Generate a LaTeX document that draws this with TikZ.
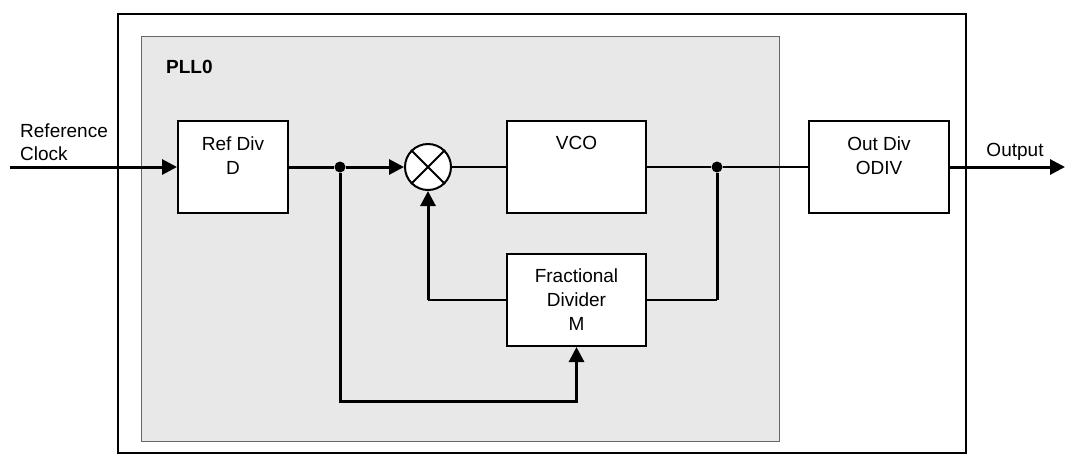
\documentclass[tikz,border=0pt]{standalone}
\usepackage{fontspec}
\setmainfont{Liberation Sans}
\usetikzlibrary{positioning,arrows.meta,calc}

\begin{document}
\begin{tikzpicture}[x=1pt, y=-1pt,
        box/.style = {
            draw,
            fill=white,
            line width=2pt,
            align=center,
            minimum width=110pt,
            minimum height=92pt,
            inner sep=0pt,
            font=\fontsize{19}{24}\selectfont
        },
        boxtext/.style = {
            label={[anchor=north, yshift=-13pt, align=center, font=\fontsize{19}{24}\selectfont]north:{#1}}
        },
        wire/.style = {line width=1.3pt},
        bus/.style = {line width=3pt},
        tip/.style = {-{Triangle[length=15pt, width=15pt]}},
        junction/.style = {circle, fill, inner sep=0pt, minimum size=11pt},
        txt/.style = {font=\fontsize{19}{23}\selectfont, align=left, inner sep=0pt}]

        \useasboundingbox (0,0) rectangle (1065,464);

        % frames
        \node[draw, line width=2pt, minimum width=848pt, minimum height=439pt, anchor=north west] (chip) at (117,13) {};
        \node[draw=black!60, fill=gray!18, line width=0.8pt, minimum width=638pt, minimum height=405pt, anchor=north west] (pll) at (141,36) {};
        \node[txt, font=\fontsize{19}{23}\selectfont\bfseries, anchor=west] (name) at (166,67) {PLL0};

        % blocks
        \node[box, boxtext={Ref Div\\D}] (refdiv) at (233,167) {};
        \node[circle, draw, fill=white, line width=2pt, minimum size=46pt, inner sep=0pt, right=115pt of refdiv] (mix) {};
        \node[box, minimum width=139pt, boxtext={VCO}, right=54pt of mix] (vco) {};
        \node[box, minimum width=139pt, below=39pt of vco] (frac) {Fractional\\Divider\\M};
        \node[box, minimum width=140pt, boxtext={Out Div\\ODIV}, right=161pt of vco] (outdiv) {};

        \draw[line width=2pt] (mix.north west) -- (mix.south east);
        \draw[line width=2pt] (mix.north east) -- (mix.south west);

        % junctions and ends
        \node[junction] (split) at (340,167) {};
        \node[junction] (tap) at (717,167) {};
        \coordinate (in) at (10,167);
        \coordinate (out) at (1065,167);
        \coordinate (fbk) at (mix |- frac.west);
        \coordinate (bend) at (split |- 0,401);

        \node[txt, anchor=west] (inlabel) at (20,142) {Reference\\Clock};
        \node[txt] (outlabel) at (1015,152) {Output};

        % connections
        \draw[bus, tip] (in) -- (refdiv);
        \draw[bus] (refdiv) -- (split);
        \draw[bus, tip] (split) -- (mix);
        \draw[wire] (mix) -- (vco);
        \draw[wire] (vco) -- (tap);
        \draw[wire] (tap) -- (outdiv);
        \draw[bus, tip] (outdiv) -- (out);
        \draw[bus] (tap) -- (tap |- frac.east);
        \draw[wire] (tap |- frac.east) -- (frac.east);
        \draw[wire] (frac.west) -- (fbk);
        \draw[bus, tip] (fbk) -- (mix);
        \draw[bus, tip] (split) -- (bend) -| (frac.south);
\end{tikzpicture}
\end{document}
